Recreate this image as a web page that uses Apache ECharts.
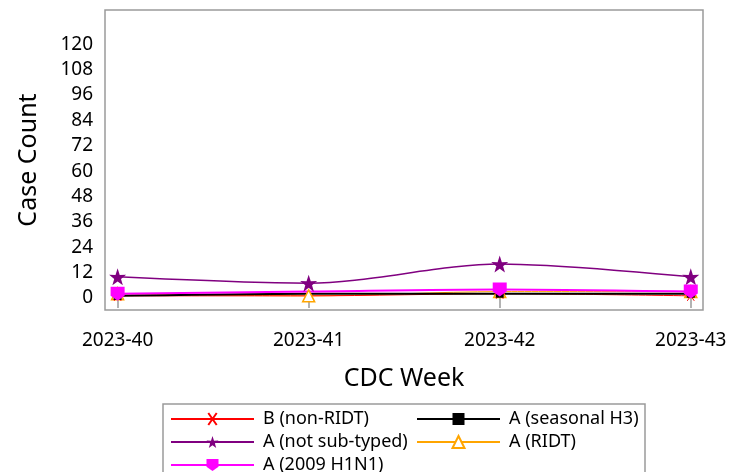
<!DOCTYPE html>
<html>
<head>
<meta charset="utf-8">
<script src="https://cdn.jsdelivr.net/npm/echarts@6/dist/echarts.min.js"></script>
<style>
html,body{margin:0;padding:0;background:#fff;}
#main{width:740px;height:472px;}
</style>
</head>
<body>
<div id="main"></div>
<script>
var weeks = ['2023-40', '2023-41', '2023-42', '2023-43'];
var yTicks = [0, 12, 24, 36, 48, 60, 72, 84, 96, 108, 120];
var bNonRidt = [1, 1, 2, 1];
var aSeasonalH3 = [1, 2, 2, 2];
var aNotSubtyped = [10, 7, 16, 10];
var aRidt = [2, 1, 3, 3];
var aH1N1 = [2, 3, 4, 3];

function pts(arr) { return arr.map(function (v, i) { return [i, v]; }); }
function sizeSkip(size) { return function (v, p) { return p.dataIndex === 1 ? 0 : size; }; }

var FONT = 'Noto Sans';
var chart = echarts.init(document.getElementById('main'));
var asterisk = 'path://M0,5 L10,5 M1.5,1.5 L8.5,8.5 M8.5,1.5 L1.5,8.5';
var shield = 'path://M0,0 L10,0 L10,7 L5,11 L0,7 Z';
var star = 'path://M50,0 L61.8,35.4 L97.6,34.5 L69,56.6 L79.4,91 L50,70 L20.6,91 L31,56.6 L2.4,34.5 L38.2,35.4 Z';

function leg(name, left, top) {
  return {
    left: left, top: top, padding: 0, itemWidth: 83, itemHeight: 15, itemGap: 0,
    textStyle: { fontSize: 18, color: '#000', fontFamily: FONT, padding: [0, 0, 0, 4], lineHeight: 20 },
    data: [name]
  };
}

chart.setOption({
  animation: false,
  backgroundColor: '#fff',
  textStyle: { fontFamily: FONT },
  grid: { left: 105, top: 10, right: 37, bottom: 162, show: true, borderColor: '#9a9a9a', borderWidth: 1.5, containLabel: false },
  xAxis: {
    type: 'value', min: -0.066, max: 3.064,
    name: 'CDC Week', nameLocation: 'middle', nameGap: 56,
    nameTextStyle: { fontSize: 25, color: '#000', fontFamily: FONT },
    axisLine: { show: false },
    splitLine: { show: false },
    axisTick: { show: true, length: 10, lineStyle: { color: '#9a9a9a', width: 1.5 }, customValues: [0, 1, 2, 3] },
    axisLabel: { customValues: [0, 1, 2, 3], margin: 21, fontSize: 19, color: '#000', fontFamily: FONT,
      formatter: function (v) { return weeks[Math.round(v)]; } }
  },
  yAxis: {
    type: 'value', min: -5.7, max: 136.2,
    name: 'Case Count', nameLocation: 'middle', nameGap: 64,
    nameTextStyle: { fontSize: 25, color: '#000', fontFamily: FONT },
    axisLine: { show: false },
    splitLine: { show: false },
    axisTick: { show: false },
    axisLabel: { customValues: yTicks, margin: 12, fontSize: 19, color: '#000', fontFamily: FONT }
  },
  legend: [
    leg('B (non-RIDT)', 170, 409),
    leg('A (not sub-typed)', 170, 432),
    leg('A (2009 H1N1)', 170, 455),
    leg('A (seasonal H3)', 416, 409),
    leg('A (RIDT)', 416, 432)
  ],
  graphic: [{
    type: 'rect', shape: { x: 163, y: 404, width: 482, height: 90 },
    style: { fill: 'none', stroke: '#9a9a9a', lineWidth: 1.5 }, silent: true
  }],
  series: [{
    name: 'A (RIDT)', type: 'line', data: pts(aRidt), smooth: 0.3,
    symbol: 'triangle', symbolSize: 12,
    lineStyle: { color: '#ffa500', width: 1 },
    itemStyle: { color: '#fff', borderColor: '#ffa500', borderWidth: 1.5 }
  }, {
    name: 'B (non-RIDT)', type: 'line', data: pts(bNonRidt), smooth: 0.3,
    symbol: asterisk, symbolSize: sizeSkip(10),
    lineStyle: { color: '#ff0000', width: 1 },
    itemStyle: { color: 'none', borderColor: '#ff0000', borderWidth: 1 }
  }, {
    name: 'A (seasonal H3)', type: 'line', data: pts(aSeasonalH3), smooth: 0.3,
    symbol: 'rect', symbolSize: sizeSkip(8),
    lineStyle: { color: '#000', width: 2 },
    itemStyle: { color: '#000' }
  }, {
    name: 'A (not sub-typed)', type: 'line', data: pts(aNotSubtyped), smooth: 0.3,
    symbol: star, symbolSize: 17,
    lineStyle: { color: '#800080', width: 1.5 },
    itemStyle: { color: '#800080' }
  }, {
    name: 'A (2009 H1N1)', type: 'line', data: pts(aH1N1), smooth: 0.3,
    symbol: shield, symbolSize: sizeSkip(14),
    lineStyle: { color: '#ff00ff', width: 2 },
    itemStyle: { color: '#ff00ff' }
  }]
});
</script>
</body>
</html>
